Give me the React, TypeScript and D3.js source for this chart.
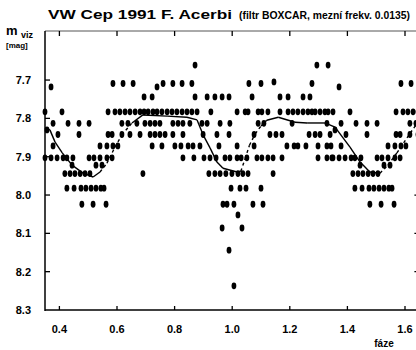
import React from "react";
import * as d3 from "d3";

const W = 416;
const H = 350;

// Observed phases per magnitude row (one cycle, phase 0.35 – 1.35)
const ph7661 = [0.871, 1.294, 1.333];
const ph7705 = [1.145];
const ph7709 = [0.586, 0.621, 0.656, 0.76, 0.794, 0.826, 0.86, 1.058, 1.1, 1.277];
const ph7718 = [0.371, 0.739];
const ph7744 = [0.694, 0.722, 0.871, 0.913, 0.94, 0.965, 0.989, 1.069, 1.166, 1.194, 1.246, 1.27];
const ph7783 = [0.35, 0.409, 0.569, 0.593, 0.61, 0.628, 0.645, 0.663, 0.68, 0.694, 0.708, 0.725, 0.739, 0.756, 0.774, 0.791, 0.808, 0.826, 0.843, 0.86, 0.878, 0.926, 1.017, 1.045, 1.055, 1.09, 1.103, 1.124, 1.166, 1.194, 1.211, 1.228, 1.246, 1.263, 1.277, 1.288, 1.305, 1.322, 1.333];
const ph7813 = [0.378, 0.43, 0.468, 0.503, 0.617, 0.638, 0.669, 0.697, 0.715, 0.732, 0.749, 0.794, 0.812, 0.829, 0.853, 0.895, 0.913, 0.958, 0.992, 1.09, 1.11, 1.208, 1.329];
const ph7830 = [0.357];
const ph7842 = [0.395, 0.468, 0.569, 0.583, 0.617, 0.645, 0.68, 0.715, 0.732, 0.749, 0.767, 0.794, 0.829, 0.899, 0.947, 0.989, 1.076, 1.131, 1.152, 1.173, 1.267, 1.288, 1.305, 1.34];
const ph7872 = [0.378, 0.541, 0.565, 0.586, 0.603, 0.722, 0.756, 0.801, 0.822, 0.847, 0.864, 0.888, 0.954, 1.017, 1.076, 1.19, 1.215, 1.228, 1.256, 1.298, 1.329, 1.343];
const ph7903 = [0.35, 0.371, 0.392, 0.413, 0.426, 0.447, 0.503, 0.52, 0.541, 0.565, 0.583, 0.829, 0.867, 0.902, 0.923, 0.944, 0.975, 0.992, 1.017, 1.031, 1.051, 1.086, 1.103, 1.124, 1.142, 1.173, 1.298, 1.329, 1.346];
const ph7922 = [0.444, 0.527, 0.548];
const ph7944 = [0.419, 0.437, 0.454, 0.472, 0.489, 0.506, 0.69, 0.919, 0.94, 0.958, 0.978, 0.999, 1.02, 1.037, 1.055, 1.142];
const ph7982 = [0.426, 0.451, 0.475, 0.492, 0.51, 0.527, 0.544, 0.555, 0.996, 1.027, 1.048, 1.1];
const ph8024 = [0.478, 0.517, 0.562, 0.968, 0.982, 1.006, 1.072, 1.107];
const ph8052 = [1.02];
const ph8086 = [0.965, 1.034];
const ph8144 = [0.989];
const ph8237 = [1.006];

const rowMags = [7.661, 7.705, 7.709, 7.718, 7.744, 7.783, 7.813, 7.83, 7.842, 7.872, 7.903, 7.922, 7.944, 7.982, 8.024, 8.052, 8.086, 8.144, 8.237];
const rowPhases = [ph7661, ph7705, ph7709, ph7718, ph7744, ph7783, ph7813, ph7830, ph7842, ph7872, ph7903, ph7922, ph7944, ph7982, ph8024, ph8052, ph8086, ph8144, ph8237];

// BOXCAR-filtered curve
const curvePhase = [0.35, 0.367, 0.385, 0.41, 0.444, 0.482, 0.517, 0.541, 0.565, 0.593, 0.617, 0.652, 0.69, 0.774, 0.843, 0.878, 0.899, 0.923, 0.947, 0.968, 1.017, 1.03, 1.045, 1.06, 1.08, 1.1, 1.12, 1.16, 1.218, 1.26, 1.322, 1.357, 1.409, 1.444, 1.478, 1.513, 1.541, 1.572, 1.607, 1.638, 1.65];
const curveMag = [7.825, 7.83, 7.862, 7.89, 7.922, 7.943, 7.953, 7.94, 7.917, 7.875, 7.843, 7.812, 7.791, 7.794, 7.797, 7.804, 7.843, 7.877, 7.914, 7.93, 7.94, 7.938, 7.905, 7.87, 7.84, 7.82, 7.805, 7.797, 7.81, 7.812, 7.812, 7.823, 7.875, 7.914, 7.94, 7.943, 7.922, 7.89, 7.851, 7.817, 7.81];

const xTicks = [0.4, 0.6, 0.8, 1.0, 1.2, 1.4, 1.6];
const yTicks = [7.7, 7.8, 7.9, 8.0, 8.1, 8.2, 8.3];

const FONT = "'Liberation Sans', Arial, Helvetica, sans-serif";

export default function App() {
  const x = d3.scaleLinear().domain([0.35, 1.65]).range([45, 419.4]);
  const y = d3.scaleLinear().domain([7.572, 8.3]).range([31, 310]);

  const points: { p: number; m: number }[] = [];
  rowMags.forEach((m, i) => {
    rowPhases[i].forEach((p) => {
      points.push({ p, m });
      if (p < 0.65) points.push({ p: p + 1, m });
    });
  });

  const segs = [] as { d: string; dashed: boolean }[];
  for (let i = 0; i < curvePhase.length - 1; i++) {
    const slope = (curveMag[i + 1] - curveMag[i]) / (curvePhase[i + 1] - curvePhase[i]);
    const line = d3.line<number>().x((j) => x(curvePhase[j])).y((j) => y(curveMag[j]));
    segs.push({ d: line([i, i + 1]) || "", dashed: slope < -0.6 });
  }

  const x0 = x.range()[0];
  const x1 = x.range()[1];
  const yTop = y.range()[0];
  const yBot = y.range()[1];

  return (
    <svg
      width={W}
      height={H}
      style={{ position: "fixed", left: 0, top: 0, background: "#fff" }}
      fontFamily={FONT}
    >
      <rect x={0} y={0} width={W} height={H} fill="#fff" />
      {/* title */}
      <text x={48} y={19} fontSize={12} fontWeight="bold" textLength={184} lengthAdjust="spacingAndGlyphs">
        VW Cep  1991  F. Acerbi
      </text>
      <text
        x={0}
        y={0}
        transform="translate(239,19) scale(1,1.2)"
        fontSize={9.5}
        fontWeight="bold"
        textLength={171}
        lengthAdjust="spacingAndGlyphs"
      >
        (filtr BOXCAR, mezní frekv. 0.0135)
      </text>
      {/* y label */}
      <text x={6} y={35} fontSize={13} fontWeight="bold">m</text>
      <text x={21} y={38} fontSize={9} fontWeight="bold">viz</text>
      <text x={6} y={48} fontSize={8} fontWeight="bold">[mag]</text>
      {/* frame */}
      <line x1={x0} y1={yTop} x2={x1} y2={yTop} stroke="#555" strokeWidth={1} />
      <line x1={x1} y1={yTop} x2={x1} y2={yBot} stroke="#000" strokeWidth={1.5} />
      <line x1={x0} y1={yTop} x2={x0} y2={yBot + 1} stroke="#000" strokeWidth={1.5} />
      <line x1={x0} y1={yBot} x2={x1} y2={yBot} stroke="#000" strokeWidth={1.5} />
      {yTicks.map((t) => (
        <g key={"y" + t}>
          {t < 8.3 && <line x1={x0} x2={x0 + 5} y1={y(t)} y2={y(t)} stroke="#000" strokeWidth={1.3} />}
          {t < 8.3 && t > 7.95 && <line x1={x1 - 5} x2={x1} y1={y(t)} y2={y(t)} stroke="#000" strokeWidth={1.3} />}
          <text x={31} y={y(t) + 4} fontSize={11} fontWeight="bold" textAnchor="end">
            {d3.format(".1f")(t)}
          </text>
        </g>
      ))}
      {xTicks.map((t) => (
        <g key={"x" + t}>
          <line x1={x(t)} x2={x(t)} y1={yBot} y2={yBot - 4} stroke="#000" strokeWidth={1.3} />
          <line x1={x(t)} x2={x(t)} y1={yTop} y2={yTop + 5} stroke="#000" strokeWidth={1.3} />
          <text x={x(t)} y={333} fontSize={11} fontWeight="bold" textAnchor="middle">
            {d3.format(".1f")(t)}
          </text>
        </g>
      ))}
      <text x={384} y={347} fontSize={10} fontWeight="bold" textAnchor="middle">fáze</text>
      {/* curve */}
      {segs.map((s, i) => (
        <path
          key={"c" + i}
          d={s.d}
          fill="none"
          stroke="#000"
          strokeWidth={1.4}
          strokeDasharray={s.dashed ? "3,3" : undefined}
        />
      ))}
      {/* points */}
      {points.map((pt, i) => (
        <ellipse key={"p" + i} cx={x(pt.p)} cy={y(pt.m)} rx={2.4} ry={3.4} fill="#000" />
      ))}
    </svg>
  );
}
